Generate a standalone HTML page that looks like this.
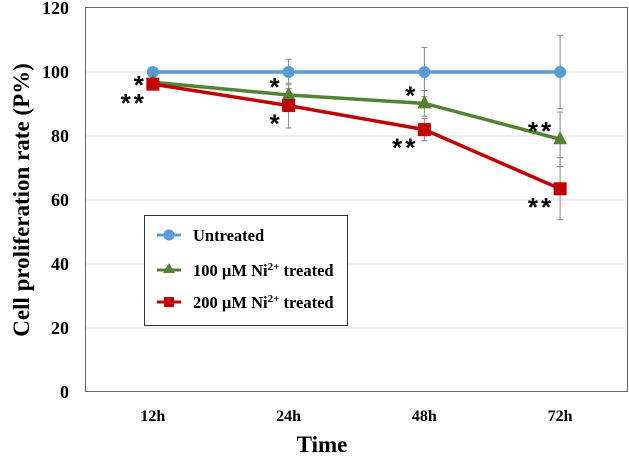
<!DOCTYPE html>
<html><head><meta charset="utf-8"><style>
body{margin:0;background:#fff}
svg{display:block;font-family:"Liberation Serif",serif;font-weight:bold}
</style></head><body>
<svg id="chart" width="629" height="457" viewBox="0 0 629 457" xmlns="http://www.w3.org/2000/svg">
<g id="grid"></g>
<rect x="85.5" y="7.5" width="542" height="384" fill="none" stroke="#666" stroke-width="1"/>
<g id="yticks"></g><g id="xticks"></g>
<g id="series"></g>
<text transform="translate(29,200) rotate(-90)" text-anchor="middle" font-size="23">Cell proliferation rate (P%)</text>
<text x="322" y="452" text-anchor="middle" font-size="23">Time</text>
<g>
<rect x="144.5" y="215.5" width="203" height="110" fill="#fff" stroke="#333"/>
<g><line x1="157" y1="235" x2="181" y2="235" stroke="#5b9bd5" stroke-width="3"/><circle cx="169" cy="235" r="5.5" fill="#5b9bd5"/><text x="193" y="241" font-size="16.5">Untreated</text></g>
<g><line x1="157" y1="270" x2="181" y2="270" stroke="#548235" stroke-width="3"/><polygon points="169,263 175,273 163,273" fill="#548235"/><text x="193" y="276" font-size="16.5">100 µM Ni<tspan font-size="11" dy="-6">2+</tspan><tspan dy="6"> treated</tspan></text></g>
<g><line x1="157" y1="302" x2="181" y2="302" stroke="#c00000" stroke-width="3"/><rect x="164" y="297" width="10" height="10" fill="#c00000"/><text x="193" y="308" font-size="16.5">200 µM Ni<tspan font-size="11" dy="-6">2+</tspan><tspan dy="6"> treated</tspan></text></g>
</g>
<g id="stars"></g>
</svg>
<script>
const categories=["12h","24h","48h","72h"];
const yTicks=[0,20,40,60,80,100,120];
const untreated=[100,100,100,100];
const untreatedErr=[0,4,7.7,11.5];
const ni100=[96.8,92.8,90.2,79];
const ni100Err=[1,2,4,8.5];
const ni200=[96.2,89.5,82,63.5];
const ni200Err=[1,7,3.5,9.7];
const starLabels=[["*","**"],["*","*"],["*","**"],["**","**"]];
const NS="http://www.w3.org/2000/svg";
const L=85,R=628,T=8,B=392;
function y(v){return B-(v/120)*(B-T);}
function x(i){return L+(R-L)/categories.length*(i+0.5);}
function mk(tag,attrs,parent){const e=document.createElementNS(NS,tag);for(const k in attrs)e.setAttribute(k,attrs[k]);parent.appendChild(e);return e;}
const grid=document.getElementById('grid'),yt=document.getElementById('yticks'),xt=document.getElementById('xticks'),ser=document.getElementById('series'),st=document.getElementById('stars');
yTicks.forEach(v=>{
 if(v>0&&v<120){const g=mk('line',{x1:L,x2:R,y1:y(v),y2:y(v),stroke:'#e4e4e4','stroke-width':1.2},grid);
 
 }
 const t=mk('text',{x:69,y:y(v)+6,'text-anchor':'end','font-size':18},yt);t.textContent=v;
 
 
});
categories.forEach((c,i)=>{const t=mk('text',{x:x(i),y:421,'text-anchor':'middle','font-size':16},xt);t.textContent=c;
 
 });
function errs(vals,err,name){vals.forEach((v,i)=>{if(!err[i])return;const g=mk('g',{stroke:'#888','stroke-width':1},ser);
 
 
 mk('line',{x1:x(i),x2:x(i),y1:y(v+err[i]),y2:y(v-err[i])},g);
 mk('line',{x1:x(i)-3,x2:x(i)+3,y1:y(v+err[i]),y2:y(v+err[i])},g);
 mk('line',{x1:x(i)-3,x2:x(i)+3,y1:y(v-err[i]),y2:y(v-err[i])},g);});}
errs(untreated,untreatedErr,'untreated');errs(ni100,ni100Err,'ni100');errs(ni200,ni200Err,'ni200');
function line(vals,color,name,shape){
 const p=mk('polyline',{points:vals.map((v,i)=>x(i)+','+y(v)).join(' '),fill:'none',stroke:color,'stroke-width':3.5},ser);
 
 
 vals.forEach((v,i)=>{let m;const cx=x(i),cy=y(v);
  if(shape==='c')m=mk('circle',{cx:cx,cy:cy,r:6,fill:color},ser);
  else if(shape==='t')m=mk('polygon',{points:`${cx},${cy-8} ${cx+7},${cy+5} ${cx-7},${cy+5}`,fill:color},ser);
  else m=mk('rect',{x:cx-6.5,y:cy-6.5,width:13,height:13,fill:color},ser);
  
  });
}
line(untreated,'#5b9bd5','untreated','c');line(ni100,'#548235','ni100','t');line(ni200,'#c00000','ni200','s');
const starStyle={'text-anchor':'end','font-size':26,'font-family':'Liberation Sans, sans-serif','letter-spacing':3};
starLabels.forEach((pair,i)=>{
 const a=mk('text',Object.assign({x:x(i)-6,y:y(ni100[i])+(i==0?12:1)},starStyle),st);a.textContent=pair[0];
 
 
 const b=mk('text',Object.assign({x:x(i)-6,y:y(ni200[i])+(i==0?28:27)},starStyle),st);b.textContent=pair[1];
 
 
});
</script>
</body></html>
